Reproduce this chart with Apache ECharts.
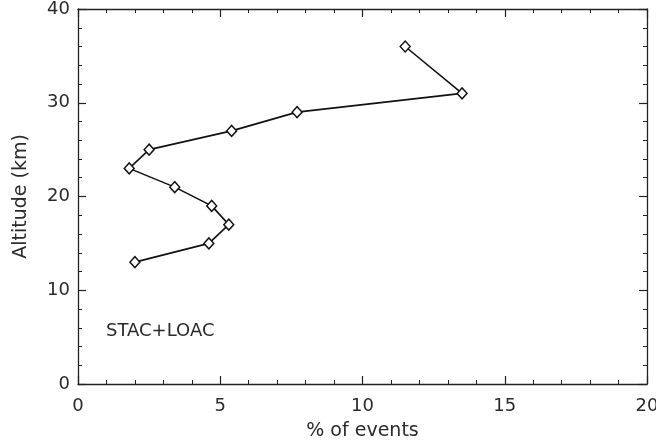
<!DOCTYPE html>
<html><head><meta charset="utf-8">
<script src="https://cdn.jsdelivr.net/npm/echarts@6/dist/echarts.min.js"></script>
<style>html,body{margin:0;padding:0;background:#fff;overflow:hidden}#c{width:656px;height:444px}</style>
</head><body><div id="c"></div>
<script>
const percentEvents = [11.5, 13.5, 7.7, 5.4, 2.5, 1.8, 3.4, 4.7, 5.3, 4.6, 2.0];
const altitudeKm   = [36, 31, 29, 27, 25, 23, 21, 19, 17, 15, 13];
const xTicks = [0, 5, 10, 15, 20];
const yTicks = [0, 10, 20, 30, 40];

const chart = echarts.init(document.getElementById('c'));
const font = 'DejaVu Sans';
const axisCol = '#222';
const textCol = '#2a2a2a';
function baseAxis(extra){
  return Object.assign({
    type:'value', splitLine:{show:false},
    axisLine:{show:true, onZero:false, lineStyle:{color:axisCol, width:1.3}},
    axisTick:{show:true, inside:true, length:8, lineStyle:{color:axisCol, width:1.2}},
    minorTick:{show:true, splitNumber:5, length:4, lineStyle:{color:axisCol, width:1}},
  }, extra);
}
chart.setOption({
  animation:false,
  backgroundColor:'#fff',
  grid:{left:78, right:9, top:9, bottom:60, containLabel:false, outerBoundsMode:'none'},
  xAxis:[
    baseAxis({min:xTicks[0], max:xTicks[xTicks.length-1], interval:5, position:'bottom',
      name:'% of events', nameLocation:'middle', nameGap:38,
      nameTextStyle:{fontFamily:font, fontSize:19, color:textCol},
      axisLabel:{fontFamily:font, fontSize:18, color:textCol, margin:13, hideOverlap:false}}),
    baseAxis({min:xTicks[0], max:xTicks[xTicks.length-1], interval:5, position:'top',
      axisLabel:{show:false}})
  ],
  yAxis:[
    baseAxis({min:yTicks[0], max:yTicks[yTicks.length-1], interval:10, position:'left',
      name:'Altitude (km)', nameLocation:'middle', nameGap:47, nameRotate:90,
      nameTextStyle:{fontFamily:font, fontSize:19, color:textCol},
      axisLabel:{fontFamily:font, fontSize:18, color:textCol, margin:8}}),
    baseAxis({min:yTicks[0], max:yTicks[yTicks.length-1], interval:10, position:'right',
      axisLabel:{show:false}})
  ],
  series:[{
    type:'line',
    data: percentEvents.map((v,i)=>[v, altitudeKm[i]]),
    symbol:'diamond', symbolSize:[10,11], showAllSymbol:true,
    lineStyle:{color:'#111', width:1.6},
    itemStyle:{color:'#fff', borderColor:'#111', borderWidth:1.4},
    z:3
  }],
  graphic:[{
    type:'text', left:106, top:322,
    style:{text:'STAC+LOAC', fontFamily:font, fontSize:18, fill:textCol}
  }]
});
</script></body></html>
